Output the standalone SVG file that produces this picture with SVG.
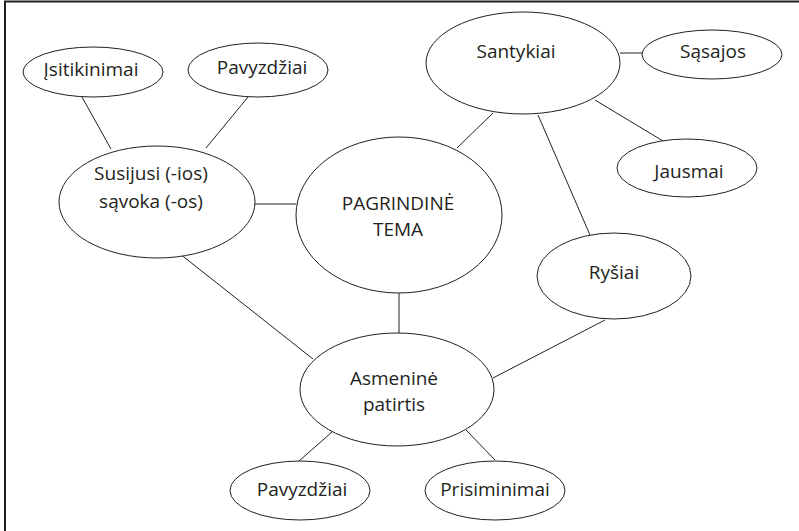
<svg xmlns="http://www.w3.org/2000/svg" width="799" height="531" viewBox="0 0 799 531">
<style>
.n ellipse{fill:#fff;stroke:#231f20;stroke-width:1}
.n text{font-family:"Open Sans","Liberation Sans",sans-serif;font-size:19px;fill:#231f20;text-anchor:middle}
#connectors line{stroke:#231f20;stroke-width:1}
</style>
<rect width="799" height="531" fill="#fff"/>
<path d="M5,531 V1.5 H799" fill="none" stroke="#231f20" stroke-width="2"/>
<g id="connectors">
<line x1="82" y1="97" x2="111" y2="149"/>
<line x1="248" y1="97" x2="206" y2="148"/>
<line x1="255" y1="204" x2="296" y2="204"/>
<line x1="170" y1="246" x2="313" y2="359"/>
<line x1="399" y1="292" x2="399" y2="333"/>
<line x1="457" y1="148" x2="493" y2="113"/>
<line x1="620" y1="53" x2="642" y2="53"/>
<line x1="595" y1="100" x2="663" y2="141"/>
<line x1="538" y1="115" x2="590" y2="235"/>
<line x1="605" y1="320" x2="493" y2="378"/>
<line x1="332" y1="432" x2="299" y2="461"/>
<line x1="466" y1="430" x2="495" y2="460"/>
</g>
<g id="isitikinimai" class="n"><ellipse cx="93" cy="72" rx="70" ry="25"/><text x="91" y="76">Įsitikinimai</text></g>
<g id="pavyzdziai-top" class="n"><ellipse cx="258" cy="70" rx="70" ry="27"/><text x="262" y="74">Pavyzdžiai</text></g>
<g id="susijusi" class="n"><ellipse cx="157" cy="202" rx="98" ry="56"/><text x="151" y="180">Susijusi (-ios)</text><text x="151" y="208">sąvoka (-os)</text></g>
<g id="pagrindine" class="n"><ellipse cx="399" cy="215" rx="103" ry="78"/><text x="398" y="210">PAGRINDINĖ</text><text x="398" y="236">TEMA</text></g>
<g id="santykiai" class="n"><ellipse cx="523" cy="63" rx="97" ry="51"/><text x="516" y="58">Santykiai</text></g>
<g id="sasajos" class="n"><ellipse cx="712" cy="54.5" rx="70" ry="24.5"/><text x="713" y="58">Sąsajos</text></g>
<g id="jausmai" class="n"><ellipse cx="687" cy="168" rx="70" ry="29"/><text x="689" y="178">Jausmai</text></g>
<g id="rysiai" class="n"><ellipse cx="614" cy="276" rx="77" ry="43"/><text x="614" y="279">Ryšiai</text></g>
<g id="asmenine" class="n"><ellipse cx="397" cy="389.5" rx="97" ry="56.5"/><text x="394" y="385">Asmeninė</text><text x="394" y="411">patirtis</text></g>
<g id="pavyzdziai-bottom" class="n"><ellipse cx="300" cy="490.5" rx="70" ry="29.5"/><text x="302" y="496">Pavyzdžiai</text></g>
<g id="prisiminimai" class="n"><ellipse cx="495" cy="490.5" rx="70" ry="29.5"/><text x="495" y="496">Prisiminimai</text></g>
</svg>
